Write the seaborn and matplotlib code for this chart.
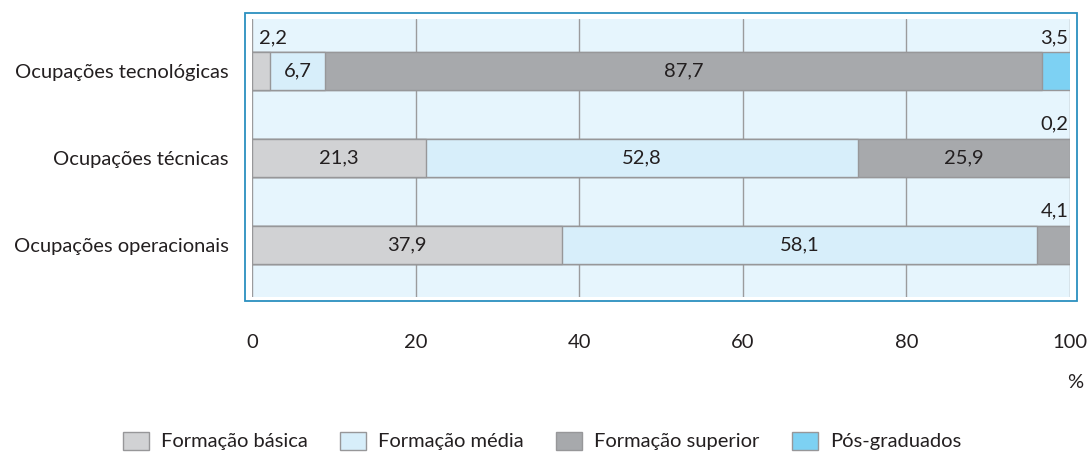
import numpy as np
import pandas as pd
import seaborn as sns
from matplotlib import pyplot as plt
from matplotlib.patches import Rectangle, Patch

# data
ocupacoes = ["Ocupações tecnológicas", "Ocupações técnicas", "Ocupações operacionais"]
series = ["Formação básica", "Formação média", "Formação superior", "Pós-graduados"]
basica = [2.2, 21.3, 37.9]
media = [6.7, 52.8, 58.1]
superior = [87.7, 25.9, 4.1]
pos = [3.5, 0.2, 0.0]
ticks = [0, 20, 40, 60, 80, 100]

cores = ["#d1d2d4", "#d7eefa", "#a7a9ac", "#7dd1f3"]
txt = "#231f20"
fs = 14.5

sns.set_theme(style="white")
plt.rcParams["font.family"] = ["Lato", "DejaVu Sans"]

df = pd.DataFrame({"ocup": ocupacoes, series[0]: basica, series[1]: media,
                   series[2]: superior, series[3]: pos})
cum = df[series].cumsum(axis=1)

fig = plt.figure(figsize=(10.87, 4.53), dpi=100)
ax = fig.add_axes([252 / 1087, 1 - 297 / 453, (1070 - 252) / 1087, (297 - 19) / 453])
ax.set_facecolor("#e6f5fd")

# stacked bars: draw cumulative totals back to front
for i in range(3, -1, -1):
    sns.barplot(x=cum[series[i]], y=df["ocup"], orient="h", color=cores[i],
                width=0.44, edgecolor="#979799", linewidth=1, saturation=1,
                ax=ax, zorder=2)

ax.set_xlim(0, 100)
ax.set_ylim(2.6, -0.6)
ax.set_xticks(ticks)
ax.set_xticklabels([str(t) for t in ticks], fontsize=fs, color=txt)
for t in ticks:
    ax.axvline(t, color="#9b9b9d", lw=1, zorder=1)
ax.tick_params(axis="x", length=0, pad=27)
ax.tick_params(axis="y", length=0, pad=17, labelsize=fs, labelcolor=txt)
ax.set_xlabel("")
ax.set_ylabel("")
for s in ax.spines.values():
    s.set_visible(False)

# value labels
vals = [basica, media, superior, pos]
for j in range(3):
    start = 0
    for i in range(4):
        v = vals[i][j]
        if v <= 0:
            continue
        lab = f"{v:.1f}".replace(".", ",")
        if v >= 6:
            ax.text(start + v / 2, j, lab, ha="center", va="center",
                    fontsize=fs, color=txt, zorder=4)
        elif i == 0:
            ax.text(0.8, j - 0.29, lab, ha="left", va="bottom",
                    fontsize=fs, color=txt, zorder=4)
        else:
            ax.text(99.8, j - 0.29, lab, ha="right", va="bottom",
                    fontsize=fs, color=txt, zorder=4)
        start += v

# outer blue frame
fig.patches.append(Rectangle((245 / 1087, 1 - 301 / 453), (1077 - 245) / 1087,
                             (301 - 13) / 453, transform=fig.transFigure,
                             fill=False, edgecolor="#2b90bf", lw=1.3))

fig.text(1075 / 1087, 1 - 383 / 453, "%", ha="center", va="center",
         fontsize=fs, color=txt)

handles = [Patch(facecolor=c, edgecolor="#979799", lw=1) for c in cores]
fig.legend(handles, series, loc="center", bbox_to_anchor=(542 / 1087, 1 - 441 / 453),
           ncol=4, frameon=False, fontsize=fs, handlelength=1.3, handleheight=1.0,
           handletextpad=0.6, columnspacing=1.6, labelcolor=txt)

fig.savefig("out.png", dpi=100)
